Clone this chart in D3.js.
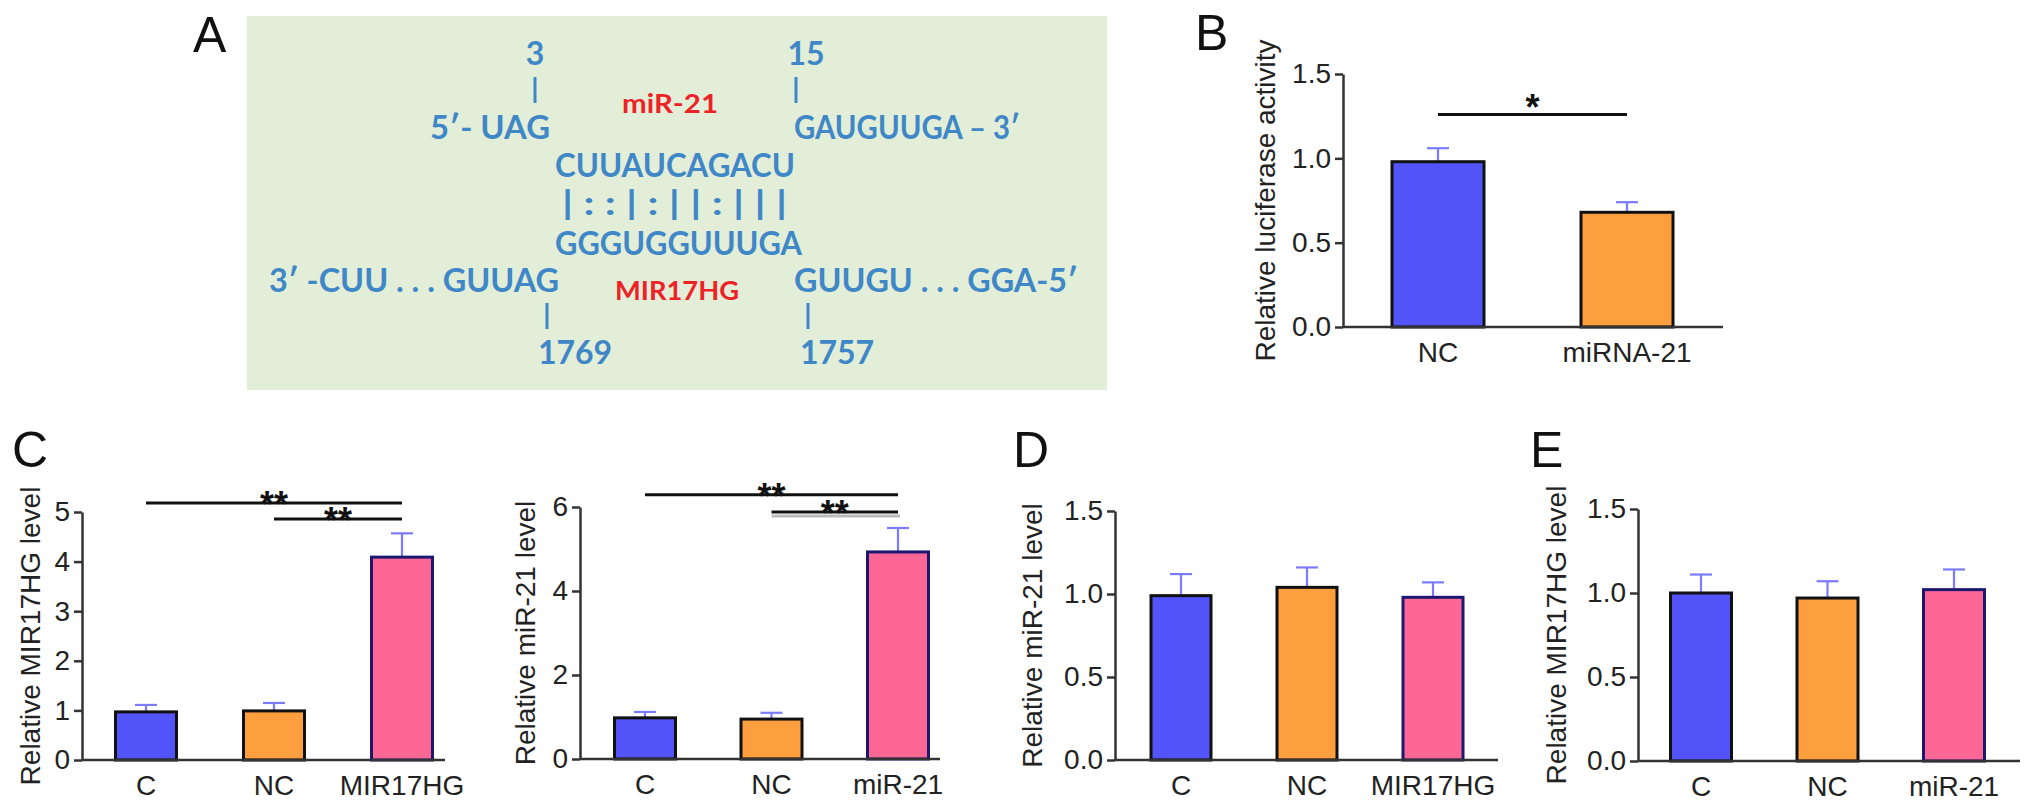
<!DOCTYPE html>
<html>
<head>
<meta charset="UTF-8">
<title>MIR17HG and miR-21</title>
<script src="https://d3js.org/d3.v7.min.js"></script>
<style>
body { margin: 0; background: #fff; }
svg { display: block; }
.tick text, .lab { font-family: "Liberation Sans", Arial, sans-serif; font-size: 28px; fill: #222; }
.letter { font-family: "Liberation Sans", Arial, sans-serif; font-size: 50px; fill: #111; }
.seq { font-family: Lato, "Open Sans", sans-serif; font-weight: bold; }
.star { font-family: "Liberation Sans", Arial, sans-serif; font-weight: bold; font-size: 36px; fill: #111; }
</style>
</head>
<body>
<script>

// values
var catsB = ["NC", "miRNA-21"];
var valsB = [0.98, 0.68];
var errsB = [0.08, 0.06];
var ticksB = [0, 0.5, 1.0, 1.5];
var sigB = [{a: 0, b: 1, level: 1.26, mark: "*"}];

var catsC1 = ["C", "NC", "MIR17HG"];
var valsC1 = [0.97, 0.99, 4.09];
var errsC1 = [0.14, 0.16, 0.48];
var ticksC1 = [0, 1, 2, 3, 4, 5];
var sigC1 = [{a: 0, b: 2, level: 5.18, mark: "**"}, {a: 1, b: 2, level: 4.86, mark: "**"}];

var catsC2 = ["C", "NC", "miR-21"];
var valsC2 = [0.98, 0.95, 4.93];
var errsC2 = [0.14, 0.15, 0.57];
var ticksC2 = [0, 2, 4, 6];
var sigC2 = [{a: 0, b: 2, level: 6.29, mark: "**"}, {a: 1, b: 2, level: 5.88, mark: "**", shade: true}];

var catsD = ["C", "NC", "MIR17HG"];
var valsD = [0.99, 1.04, 0.98];
var errsD = [0.13, 0.12, 0.09];

var catsE = ["C", "NC", "miR-21"];
var valsE = [1.0, 0.97, 1.02];
var errsE = [0.11, 0.10, 0.12];
var ticksDE = [0, 0.5, 1.0, 1.5];

// panel A sequence text
var seqText = ["3", "15", "miR-21", "5\u2032- UAG", "GAUGUUGA \u2013 3\u2032", "CUUAUCAGACU",
  "| : : | : | | : | | |", "GGGUGGUUUGA", "3\u2032 -CUU . . . GUUAG", "MIR17HG",
  "GUUGU . . . GGA-5\u2032", "1769", "1757"];

var fills = ["#5353fa", "#fd9e3f", "#fd6795"];
var strokes = ["#111", "#111", "#1c1870"];

var width = 2032,
    height = 811;

var svg = d3.select('body')
  .append('svg')
  .attr('width', width)
  .attr('height', height);

// ---- panel A ----
var seqPos = [
  {x: 535, y: 53, w: 0, mid: true, fs: 32},
  {x: 806, y: 53, w: 0, mid: true, fs: 32},
  {x: 622, y: 104, w: 96, red: true, fs: 26},
  {x: 430, y: 127, w: 120},
  {x: 794, y: 127, w: 226},
  {x: 555, y: 165, w: 240},
  {x: 562, y: 203, w: 225},
  {x: 555, y: 243, w: 247},
  {x: 269, y: 280, w: 290},
  {x: 615, y: 291, w: 124, red: true, fs: 26},
  {x: 794, y: 280, w: 284},
  {x: 575, y: 352, w: 0, mid: true, fs: 32},
  {x: 837, y: 352, w: 0, mid: true, fs: 32}
];

svg.append('rect')
  .attr('x', 247).attr('y', 16)
  .attr('width', 860).attr('height', 374)
  .attr('fill', '#e2eed8');

var seqG = svg.append('g');
seqText.forEach(function(t, i) {
  var p = seqPos[i];
  var fs = p.fs || 33;
  var txt = seqG.append('text')
    .attr('class', 'seq')
    .attr('x', p.x)
    .attr('y', p.y + fs * 0.36)
    .attr('font-size', fs)
    .attr('fill', p.red ? '#ec2226' : '#3f87c7')
    .attr('text-anchor', p.mid ? 'middle' : 'start')
    .text(t);
  if (p.w) txt.attr('textLength', p.w).attr('lengthAdjust', 'spacingAndGlyphs');
});

// little connector ticks of panel A
var connectors = [[535, 77, 103], [796, 77, 103], [547, 303, 329], [808, 303, 329]];
seqG.selectAll('line')
  .data(connectors)
  .enter()
  .append('line')
  .attr('x1', function(d) { return d[0]; })
  .attr('x2', function(d) { return d[0]; })
  .attr('y1', function(d) { return d[1]; })
  .attr('y2', function(d) { return d[2]; })
  .attr('stroke', '#3f87c7')
  .attr('stroke-width', 3);

// ---- bar panels ----
var layout = {
  B:  {ax: 1343, y0: 327, yTop: 74,  xEnd: 1723, c1: 1438, c2: 1627, bw: 92, max: 1.5, labX: 1265},
  C1: {ax: 82,   y0: 760, yTop: 512, xEnd: 445,  c1: 146,  c2: 402,  bw: 61, max: 5,   labX: 30},
  C2: {ax: 580,  y0: 759, yTop: 507, xEnd: 940,  c1: 645,  c2: 898,  bw: 61, max: 6,   labX: 525},
  D:  {ax: 1115, y0: 760, yTop: 511, xEnd: 1498, c1: 1181, c2: 1433, bw: 60, max: 1.5, labX: 1032},
  E:  {ax: 1638, y0: 761, yTop: 509, xEnd: 2020, c1: 1701, c2: 1954, bw: 61, max: 1.5, labX: 1556}
};

function drawChart(L, cats, vals, errs, ticks, fmt, title, sig) {
  var g = svg.append('g');
  var x = d3.scalePoint().domain(cats).range([L.c1, L.c2]);
  var y = d3.scaleLinear().domain([0, L.max]).range([L.y0, L.yTop]);

  // error bars (upper only)
  var eb = g.selectAll('.err')
    .data(cats)
    .enter()
    .append('g')
    .attr('stroke', '#7b7bff')
    .attr('stroke-width', 2.2);
  eb.append('line')
    .attr('x1', function(d) { return x(d); })
    .attr('x2', function(d) { return x(d); })
    .attr('y1', function(d, i) { return y(vals[i]); })
    .attr('y2', function(d, i) { return y(vals[i] + errs[i]); });
  eb.append('line')
    .attr('x1', function(d) { return x(d) - 11; })
    .attr('x2', function(d) { return x(d) + 11; })
    .attr('y1', function(d, i) { return y(vals[i] + errs[i]); })
    .attr('y2', function(d, i) { return y(vals[i] + errs[i]); });

  g.selectAll('.bar')
    .data(cats)
    .enter()
    .append('rect')
    .attr('x', function(d) { return x(d) - L.bw / 2; })
    .attr('y', function(d, i) { return y(vals[i]); })
    .attr('width', L.bw)
    .attr('height', function(d, i) { return L.y0 - y(vals[i]); })
    .attr('fill', function(d, i) { return fills[i]; })
    .attr('stroke', function(d, i) { return strokes[i]; })
    .attr('stroke-width', 3);

  // axes
  var yAxis = g.append('g')
    .attr('transform', 'translate(' + L.ax + ',0)')
    .call(d3.axisLeft(y).tickValues(ticks).tickFormat(d3.format(fmt)).tickSize(8).tickSizeOuter(0).tickPadding(4));
  yAxis.selectAll('path, line').attr('stroke', '#333').attr('stroke-width', 2.5);

  g.append('line')
    .attr('x1', L.ax).attr('x2', L.xEnd)
    .attr('y1', L.y0).attr('y2', L.y0)
    .attr('stroke', '#333').attr('stroke-width', 2.5);

  g.selectAll('.xl')
    .data(cats)
    .enter()
    .append('text')
    .attr('class', 'lab')
    .attr('x', function(d) { return x(d); })
    .attr('y', L.y0 + 35)
    .attr('text-anchor', 'middle')
    .text(function(d) { return d; });

  g.append('text')
    .attr('class', 'lab')
    .attr('transform', 'translate(' + L.labX + ',' + ((L.y0 + L.yTop) / 2) + ') rotate(-90)')
    .attr('text-anchor', 'middle')
    .attr('dy', '0.35em')
    .text(title);

  // significance brackets
  (sig || []).forEach(function(s) {
    var x1 = x(cats[s.a]), x2 = x(cats[s.b]), yy = y(s.level);
    if (s.shade) {
      g.append('line')
        .attr('x1', x1).attr('x2', x2 + 2)
        .attr('y1', yy + 4).attr('y2', yy + 4)
        .attr('stroke', '#bbb').attr('stroke-width', 3);
    }
    g.append('line')
      .attr('x1', x1).attr('x2', x2)
      .attr('y1', yy).attr('y2', yy)
      .attr('stroke', '#111').attr('stroke-width', 3);
    g.append('text')
      .attr('class', 'star')
      .attr('x', (x1 + x2) / 2)
      .attr('y', yy - (s.mark == '*' ? 15 : 7) + 21)
      .attr('text-anchor', 'middle')
      .text(s.mark);
  });
}

drawChart(layout.B, catsB, valsB, errsB, ticksB, '.1f', 'Relative luciferase activity', sigB);
drawChart(layout.C1, catsC1, valsC1, errsC1, ticksC1, 'd', 'Relative MIR17HG level', sigC1);
drawChart(layout.C2, catsC2, valsC2, errsC2, ticksC2, 'd', 'Relative miR-21 level', sigC2);
drawChart(layout.D, catsD, valsD, errsD, ticksDE, '.1f', 'Relative miR-21 level', null);
drawChart(layout.E, catsE, valsE, errsE, ticksDE, '.1f', 'Relative MIR17HG level', null);

// panel letters
var letters = [["A", 193, 52], ["B", 1195, 50], ["C", 12, 467], ["D", 1013, 467], ["E", 1530, 467]];
svg.selectAll('.letter')
  .data(letters)
  .enter()
  .append('text')
  .attr('class', 'letter')
  .attr('x', function(d) { return d[1]; })
  .attr('y', function(d) { return d[2]; })
  .text(function(d) { return d[0]; });

</script>
</body>
</html>
